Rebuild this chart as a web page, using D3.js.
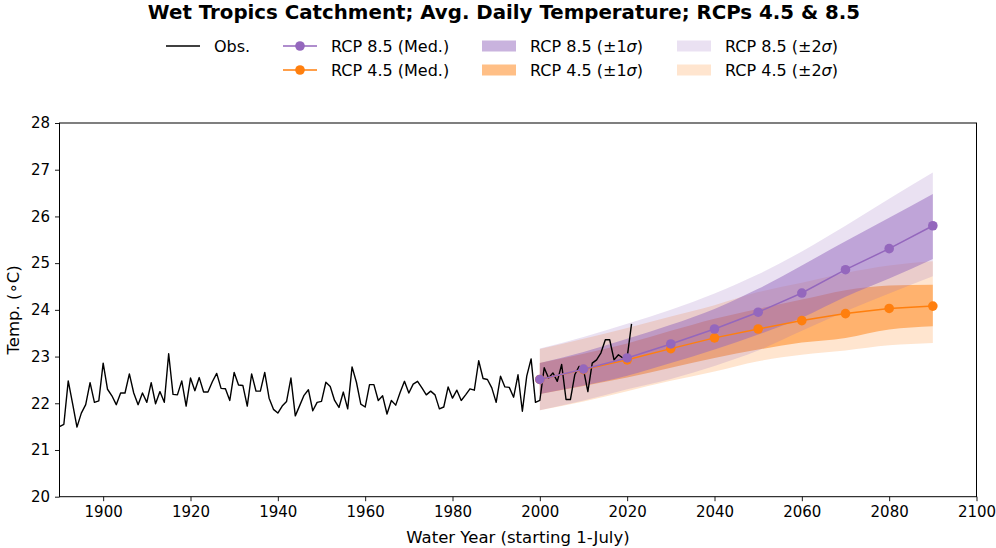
<!DOCTYPE html>
<html>
<head>
<meta charset="utf-8">
<script src="https://cdnjs.cloudflare.com/ajax/libs/d3/7.8.5/d3.min.js"></script>
<style>
  body { margin: 0; background: #fff; }
  svg { display: block; font-family: "DejaVu Sans", sans-serif; }
  .axis text { font-size: 15px; fill: #000; }
  .axis path, .axis line { stroke: #000; stroke-width: 0.9; }
</style>
</head>
<body>
<svg id="chart" width="996" height="548"></svg>
<script>
'use strict';

// observed water-year mean temperature, one value per year from 1890
var obsStart = 1890;
var obsTemp = [
  21.50, 21.55, 22.48, 21.99, 21.49, 21.79, 21.97, 22.44, 22.02, 22.05,
  22.86, 22.30, 22.16, 21.97, 22.22, 22.22, 22.63, 22.22, 21.97, 22.22,
  22.02, 22.44, 21.99, 22.25, 22.02, 23.06, 22.19, 22.18, 22.48, 21.94,
  22.54, 22.27, 22.55, 22.24, 22.24, 22.46, 22.64, 22.32, 22.31, 22.06,
  22.66, 22.39, 22.38, 21.94, 22.63, 22.26, 22.26, 22.66, 22.11, 21.87,
  21.79, 21.94, 22.04, 22.54, 21.73, 21.95, 22.17, 22.29, 21.84, 22.02,
  22.04, 22.45, 22.36, 22.06, 21.91, 22.24, 21.88, 22.78, 22.45, 21.98,
  21.92, 22.40, 22.40, 22.06, 22.16, 21.77, 22.06, 21.96, 22.23, 22.47,
  22.22, 22.41, 22.47, 22.33, 22.18, 22.26, 22.18, 21.88, 21.92, 22.35,
  22.11, 22.28, 22.06, 22.18, 22.31, 22.28, 22.91, 22.53, 22.51, 22.33,
  22.02, 22.58, 22.35, 22.34, 22.13, 22.61, 21.83, 22.58, 22.95, 22.02,
  22.06, 22.76, 22.54, 22.65, 22.47, 22.83, 22.08, 22.08, 22.61, 22.79,
  22.72, 22.25, 22.86, 22.93, 23.08, 23.36, 23.36, 22.93, 23.04, 22.97,
  22.98, 23.70
];

// projections, one value per decade
var projYears = [2000, 2010, 2020, 2030, 2040, 2050, 2060, 2070, 2080, 2090];

var rcp85Med = [22.51, 22.73, 22.97, 23.27, 23.59, 23.95, 24.36, 24.86, 25.31, 25.80];
var rcp85Lo1 = [22.20, 22.38, 22.59, 22.86, 23.15, 23.47, 23.83, 24.28, 24.67, 25.09];
var rcp85Hi1 = [22.86, 23.10, 23.38, 23.68, 24.02, 24.45, 24.95, 25.47, 25.97, 26.48];
var rcp85Lo2 = [21.85, 22.06, 22.30, 22.52, 22.80, 23.13, 23.55, 23.97, 24.35, 24.72];
var rcp85Hi2 = [23.17, 23.42, 23.70, 24.00, 24.35, 24.76, 25.25, 25.80, 26.38, 26.94];

var rcp45Med = [22.51, 22.72, 22.93, 23.17, 23.40, 23.59, 23.77, 23.92, 24.03, 24.08];
var rcp45Lo1 = [22.20, 22.37, 22.55, 22.76, 22.97, 23.15, 23.30, 23.40, 23.58, 23.65];
var rcp45Hi1 = [22.86, 23.06, 23.28, 23.55, 23.81, 24.02, 24.22, 24.42, 24.52, 24.54];
var rcp45Lo2 = [21.85, 22.04, 22.26, 22.48, 22.68, 22.90, 23.04, 23.13, 23.24, 23.29];
var rcp45Hi2 = [23.16, 23.38, 23.61, 23.86, 24.10, 24.38, 24.58, 24.79, 24.95, 25.04];

var xTicks = [1900, 1920, 1940, 1960, 1980, 2000, 2020, 2040, 2060, 2080, 2100];
var yTicks = [20, 21, 22, 23, 24, 25, 26, 27, 28];

var purple = "#9467bd", orange = "#ff7f0e";

var margin = {top: 123, right: 19.5, bottom: 51.3, left: 59.5};
var width = 996, height = 548;

var svg = d3.select("#chart");

var x = d3.scaleLinear().domain([1890, 2100]).range([margin.left, width - margin.right]);
var y = d3.scaleLinear().domain([20, 28]).range([height - margin.bottom, margin.top]);

svg.append("defs").append("clipPath").attr("id", "plotclip")
  .append("rect")
  .attr("x", x(1890)).attr("y", y(28))
  .attr("width", x(2100) - x(1890)).attr("height", y(20) - y(28));

var plot = svg.append("g").attr("clip-path", "url(#plotclip)");

function band(lo, hi) {
  return d3.area()
    .curve(d3.curveMonotoneX)
    .x(function (d, i) { return x(projYears[i]); })
    .y0(function (d, i) { return y(lo[i]); })
    .y1(function (d, i) { return y(hi[i]); })(projYears);
}

// 4.5 bands go down first, 8.5 drawn over them
var bands = [
  {lo: rcp45Lo2, hi: rcp45Hi2, color: orange, op: 0.2},
  {lo: rcp45Lo1, hi: rcp45Hi1, color: orange, op: 0.5},
  {lo: rcp85Lo2, hi: rcp85Hi2, color: purple, op: 0.2},
  {lo: rcp85Lo1, hi: rcp85Hi1, color: purple, op: 0.5}
];
bands.forEach(function (b) {
  plot.append("path")
    .attr("d", band(b.lo, b.hi))
    .attr("fill", b.color)
    .attr("fill-opacity", b.op)
    .attr("stroke", "none");
});

// observations
var obsLine = d3.line()
  .x(function (d, i) { return x(obsStart + i); })
  .y(function (d) { return y(d); });
plot.append("path")
  .attr("d", obsLine(obsTemp))
  .attr("fill", "none")
  .attr("stroke", "#000")
  .attr("stroke-width", 1.4)
  .attr("stroke-linejoin", "round");

// medians, 4.5 under 8.5
function median(vals, color) {
  var line = d3.line()
    .x(function (d, i) { return x(projYears[i]); })
    .y(function (d) { return y(d); });
  var g = plot.append("g");
  g.append("path")
    .attr("d", line(vals))
    .attr("fill", "none")
    .attr("stroke", color)
    .attr("stroke-width", 1.5);
  g.selectAll("circle")
    .data(vals)
    .enter().append("circle")
    .attr("cx", function (d, i) { return x(projYears[i]); })
    .attr("cy", function (d) { return y(d); })
    .attr("r", 4.8)
    .attr("fill", color);
}
median(rcp45Med, orange);
median(rcp85Med, purple);

// axes
svg.append("g")
  .attr("class", "axis")
  .attr("transform", "translate(0," + y(20) + ")")
  .call(d3.axisBottom(x).tickValues(xTicks).tickFormat(d3.format("d")).tickSize(4.5).tickPadding(5))
  .call(function (g) { g.select(".domain").remove(); });

svg.append("g")
  .attr("class", "axis")
  .attr("transform", "translate(" + x(1890) + ",0)")
  .call(d3.axisLeft(y).tickValues(yTicks).tickSize(4.5).tickPadding(5))
  .call(function (g) { g.select(".domain").remove(); });

svg.append("rect")
  .attr("x", x(1890)).attr("y", y(28))
  .attr("width", x(2100) - x(1890)).attr("height", y(20) - y(28))
  .attr("fill", "none")
  .attr("stroke", "#000")
  .attr("stroke-width", 1);

svg.selectAll(".axis text").attr("font-family", "DejaVu Sans");

// labels
svg.append("text")
  .attr("x", (x(1890) + x(2100)) / 2)
  .attr("y", 543)
  .attr("text-anchor", "middle")
  .attr("font-size", 16.5)
  .text("Water Year (starting 1-July)");

svg.append("text")
  .attr("transform", "translate(19," + (y(24)) + ") rotate(-90)")
  .attr("text-anchor", "middle")
  .attr("font-size", 16.5)
  .text("Temp. (\u2218C)");

svg.append("text")
  .attr("x", 504)
  .attr("y", 19)
  .attr("text-anchor", "middle")
  .attr("font-size", 19.8)
  .attr("font-weight", "bold")
  .text("Wet Tropics Catchment; Avg. Daily Temperature; RCPs 4.5 & 8.5");

// legend
var legendItems = [
  {kind: "line", color: "#000", label: "Obs.", col: 0, row: 0},
  {kind: "marker", color: purple, label: "RCP 8.5 (Med.)", col: 1, row: 0},
  {kind: "marker", color: orange, label: "RCP 4.5 (Med.)", col: 1, row: 1},
  {kind: "patch", color: purple, op: 0.5, label: "RCP 8.5 (\u00b11", col: 2, row: 0},
  {kind: "patch", color: orange, op: 0.5, label: "RCP 4.5 (\u00b11", col: 2, row: 1},
  {kind: "patch", color: purple, op: 0.2, label: "RCP 8.5 (\u00b12", col: 3, row: 0},
  {kind: "patch", color: orange, op: 0.2, label: "RCP 4.5 (\u00b12", col: 3, row: 1}
];
var colX = [166, 283, 482, 677];
var rowY = [46, 70];
var handleW = 34;

var leg = svg.append("g").attr("font-size", 16);
legendItems.forEach(function (it) {
  var x0 = colX[it.col], cy = rowY[it.row];
  if (it.kind == "patch") {
    leg.append("rect")
      .attr("x", x0).attr("y", cy - 5.5)
      .attr("width", handleW).attr("height", 11)
      .attr("fill", it.color).attr("fill-opacity", it.op);
  } else {
    leg.append("line")
      .attr("x1", x0).attr("x2", x0 + handleW)
      .attr("y1", cy).attr("y2", cy)
      .attr("stroke", it.color).attr("stroke-width", 1.5);
    if (it.kind == "marker")
      leg.append("circle").attr("cx", x0 + handleW / 2).attr("cy", cy).attr("r", 4.8).attr("fill", it.color);
  }
  var t = leg.append("text")
    .attr("x", x0 + handleW + 14)
    .attr("y", cy + 5.8)
    .text(it.label);
  if (it.kind == "patch") {
    t.append("tspan").attr("font-style", "italic").text("\u03c3");
    t.append("tspan").text(")");
  }
});
</script>
</body>
</html>
